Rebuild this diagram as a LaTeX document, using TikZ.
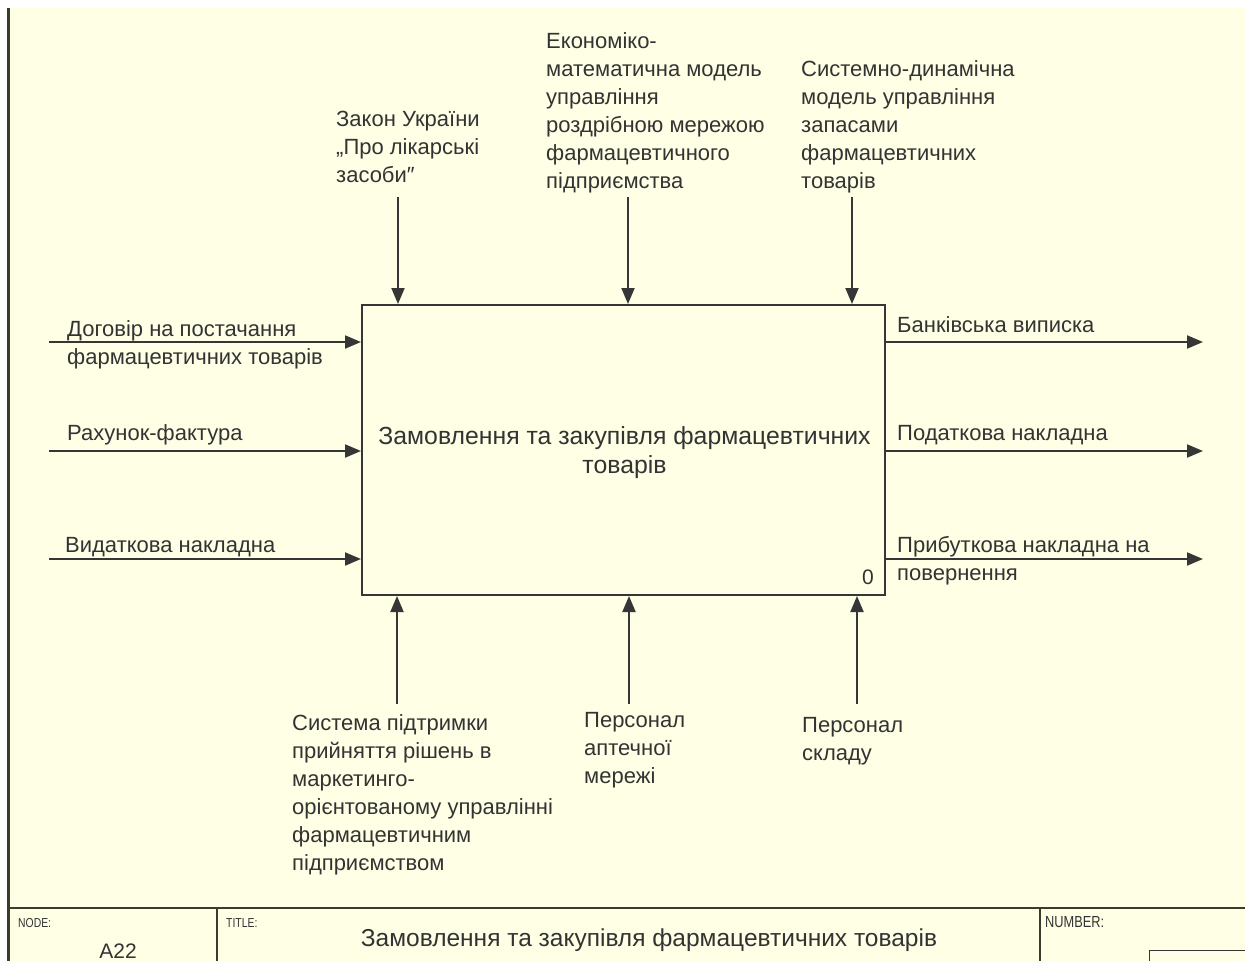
\documentclass[tikz,border=0pt]{standalone}
\usepackage{fontspec}
\setmainfont{Liberation Sans}
\newfontfamily\narrowfont[FakeStretch=0.8]{Liberation Sans}
\usetikzlibrary{arrows.meta}
\definecolor{bg}{HTML}{FFFFE6}
\definecolor{ink}{HTML}{363636}
\definecolor{txt}{HTML}{333333}
\definecolor{framec}{HTML}{3C3C2C}
\begin{document}
\begin{tikzpicture}[x=1pt,y=-1pt,
  lbl/.style={anchor=north west, inner sep=0pt, align=left, text=txt, font=\fontsize{22}{28}\selectfont},
  flow/.style={draw=ink, line width=2pt, -{Triangle[length=16pt,width=13pt]}},
  small/.style={anchor=base west, inner sep=0pt, text=txt, font=\narrowfont\fontsize{13}{16}\selectfont},
  frameline/.style={draw=framec, line width=2pt}]
\useasboundingbox (0,0) rectangle (1245,961);
\fill[white] (0,0) rectangle (1245,961);
\fill[bg] (8,8) rectangle (1245,961);
\draw[frameline, line width=2.5pt] (8.5,8) -- (8.5,961);
\draw[frameline] (8,907.5) -- (1245,907.5);
\draw[frameline] (217,907.5) -- (217,961);
\draw[frameline] (1040,907.5) -- (1040,961);
\draw[draw=ink, line width=1.5pt] (1149.5,975) -- (1149.5,950.5) -- (1260,950.5);

% main box
\node[draw=ink, line width=2pt, minimum width=523pt, minimum height=290pt, inner sep=0pt] (box) at (623.5,450) {};
\node[anchor=north, inner sep=0pt, align=center, text=txt, font=\fontsize{24.8}{29}\selectfont] (boxtxt) at (624.5,423.7) {\strut Замовлення та закупівля фармацевтичних\\товарів};
\node[anchor=base, inner sep=0pt, text=txt, font=\fontsize{21}{24}\selectfont] (num) at (868,584) {0};

% inputs
\coordinate (i1s) at (49,342);
\coordinate (i2s) at (49,451);
\coordinate (i3s) at (49,559);
\draw[flow] (i1s) -- (i1s -| box.west);
\draw[flow] (i2s) -- (i2s -| box.west);
\draw[flow] (i3s) -- (i3s -| box.west);
\node[lbl] (i1l) at (67,316.4) {\strut Договір на постачання\\фармацевтичних товарів};
\node[lbl] (i2l) at (67,420.4) {\strut Рахунок-фактура};
\node[lbl] (i3l) at (65,532.4) {\strut Видаткова накладна};

% outputs
\coordinate (o1e) at (1203,342);
\coordinate (o2e) at (1203,451);
\coordinate (o3e) at (1203,559);
\draw[flow] (o1e -| box.east) -- (o1e);
\draw[flow] (o2e -| box.east) -- (o2e);
\draw[flow] (o3e -| box.east) -- (o3e);
\node[lbl] (o1l) at (897,312.4) {\strut Банківська виписка};
\node[lbl] (o2l) at (897,420.4) {\strut Податкова накладна};
\node[lbl] (o3l) at (897,532.4) {\strut Прибуткова накладна на\\повернення};

% controls
\coordinate (c1s) at (398,197);
\coordinate (c2s) at (628,197);
\coordinate (c3s) at (852,197);
\draw[flow] (c1s) -- (c1s |- box.north);
\draw[flow] (c2s) -- (c2s |- box.north);
\draw[flow] (c3s) -- (c3s |- box.north);
\node[lbl] (c1l) at (336,106.4) {\strut Закон України\\„Про лікарські\\засоби″};
\node[lbl] (c2l) at (546,28.4) {\strut Економіко-\\математична модель\\управління\\роздрібною мережою\\фармацевтичного\\підприємства};
\node[lbl] (c3l) at (801,56.4) {\strut Системно-динамічна\\модель управління\\запасами\\фармацевтичних\\товарів};

% mechanisms
\coordinate (m1s) at (397,704);
\coordinate (m2s) at (629,704);
\coordinate (m3s) at (857,704);
\draw[flow] (m1s) -- (m1s |- box.south);
\draw[flow] (m2s) -- (m2s |- box.south);
\draw[flow] (m3s) -- (m3s |- box.south);
\node[lbl] (m1l) at (292,710.4) {\strut Система підтримки\\прийняття рішень в\\маркетинго-\\орієнтованому управлінні\\фармацевтичним\\підприємством};
\node[lbl] (m2l) at (584,707.4) {\strut Персонал\\аптечної\\мережі};
\node[lbl] (m3l) at (802,712.4) {\strut Персонал\\складу};

% title block
\node[small] (nodelbl) at (18,927) {NODE:};
\node[anchor=base, inner sep=0pt, text=txt, font=\fontsize{21}{24}\selectfont] (nodeid) at (118,958) {A22};
\node[small] (titlelbl) at (226,927) {TITLE:};
\node[anchor=base, inner sep=0pt, text=txt, font=\fontsize{24.5}{28}\selectfont] (title) at (649,946) {Замовлення та закупівля фармацевтичних товарів};
\node[small, font=\narrowfont\fontsize{16}{18}\selectfont] (numlbl) at (1045,927) {NUMBER:};
\end{tikzpicture}
\end{document}
